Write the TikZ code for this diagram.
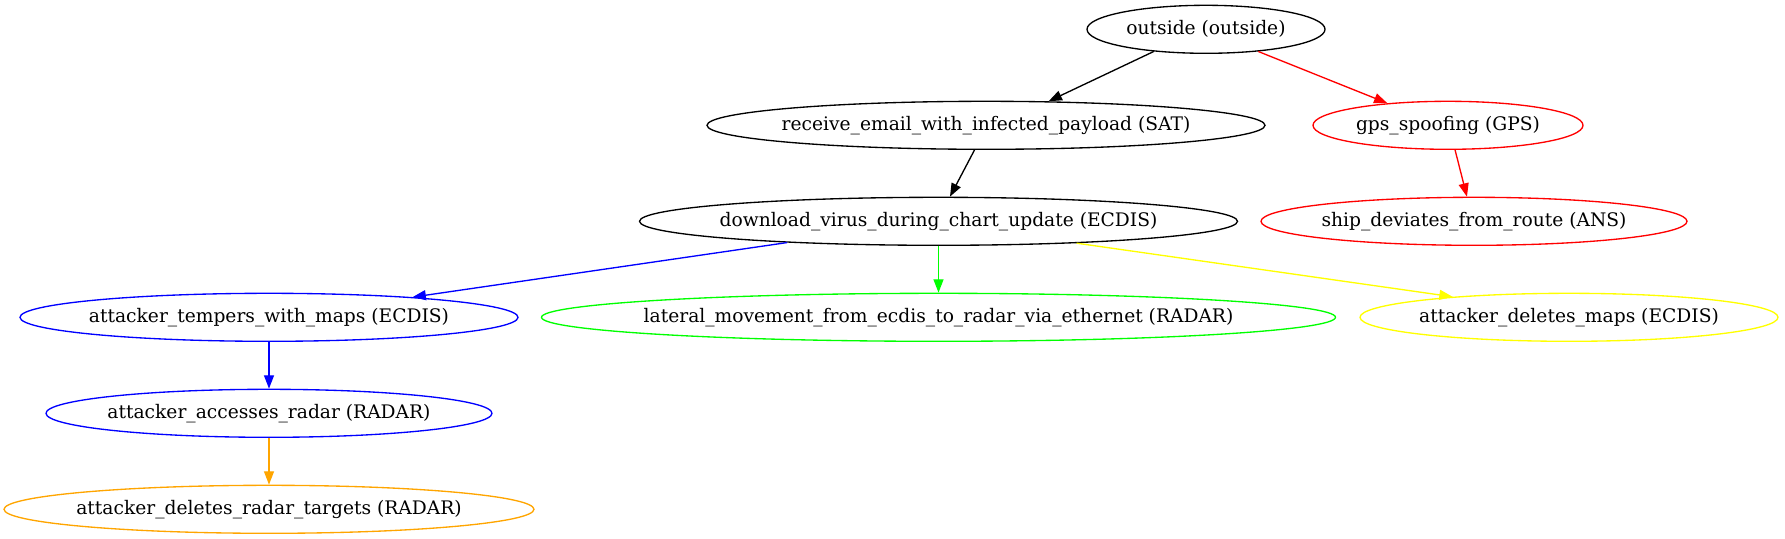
\documentclass[tikz,border=0pt]{standalone}
\usepackage{fontspec}
\setmainfont{DejaVu Serif}
\usetikzlibrary{shapes.geometric,arrows.meta}
\definecolor{gvgreen}{RGB}{0,255,0}
\definecolor{gvyellow}{RGB}{255,255,0}
\definecolor{gvorange}{RGB}{255,165,0}
\definecolor{gvred}{RGB}{255,0,0}
\definecolor{gvblue}{RGB}{0,0,255}
\newcommand{\gvtext}[1]{\makebox[0pt]{#1}}
\begin{document}
\begin{tikzpicture}[x=0.75pt,y=-0.75pt,
  ell/.style={ellipse, draw, line width=1pt, inner sep=0pt, minimum height=36pt,
    minimum width=#1*1.5pt, font=\fontsize{14pt}{16pt}\selectfont, text=black},
  gvedge/.style={line width=1pt, -{Triangle[length=10pt,width=7.5pt]}}]
\useasboundingbox (0,0) rectangle (1785,539);
% rank 1
\node[ell=119] (outside) at (1206,29.3) {\gvtext{outside (outside)}};
% rank 2
\node[ell=279] (receive) at (986,125.3) {\gvtext{receive\_email\_with\_infected\_payload (SAT)}};
\node[ell=135, draw=gvred] (gps) at (1448,125.3) {\gvtext{gps\_spoofing (GPS)}};
% rank 3
\node[ell=299] (download) at (938.5,221.3) {\gvtext{download\_virus\_during\_chart\_update (ECDIS)}};
\node[ell=213, draw=gvred] (ship) at (1474,221.3) {\gvtext{ship\_deviates\_from\_route (ANS)}};
% rank 4
\node[ell=249, draw=gvblue] (tempers) at (269,317.3) {\gvtext{attacker\_tempers\_with\_maps (ECDIS)}};
\node[ell=397, draw=gvgreen] (lateral) at (938.5,317.3) {\gvtext{lateral\_movement\_from\_ecdis\_to\_radar\_via\_ethernet (RADAR)}};
\node[ell=209, draw=gvyellow] (delmaps) at (1569,317.3) {\gvtext{attacker\_deletes\_maps (ECDIS)}};
% rank 5
\node[ell=223, draw=gvblue] (accesses) at (269,413.3) {\gvtext{attacker\_accesses\_radar (RADAR)}};
% rank 6
\node[ell=265, draw=gvorange] (deltargets) at (269,509.3) {\gvtext{attacker\_deletes\_radar\_targets (RADAR)}};
% edges
\draw[gvedge] (outside.203.9) -- (receive.21);
\draw[gvedge, gvred] (outside.337.9) -- (gps.160.7);
\draw[gvedge] (receive.245.4) -- (download.65.4);
\draw[gvedge, gvred] (gps.286.3) -- (ship.106.3);
\draw[gvedge, gvblue] (download.188.3) -- (tempers.8.4);
\draw[gvedge, gvgreen] (download.south) -- (lateral.north);
\draw[gvedge, gvyellow] (download.351.1) -- (delmaps.170.9);
\draw[gvedge, gvblue] (tempers.south) -- (accesses.north);
\draw[gvedge, gvorange] (accesses.south) -- (deltargets.north);
\end{tikzpicture}
\end{document}
